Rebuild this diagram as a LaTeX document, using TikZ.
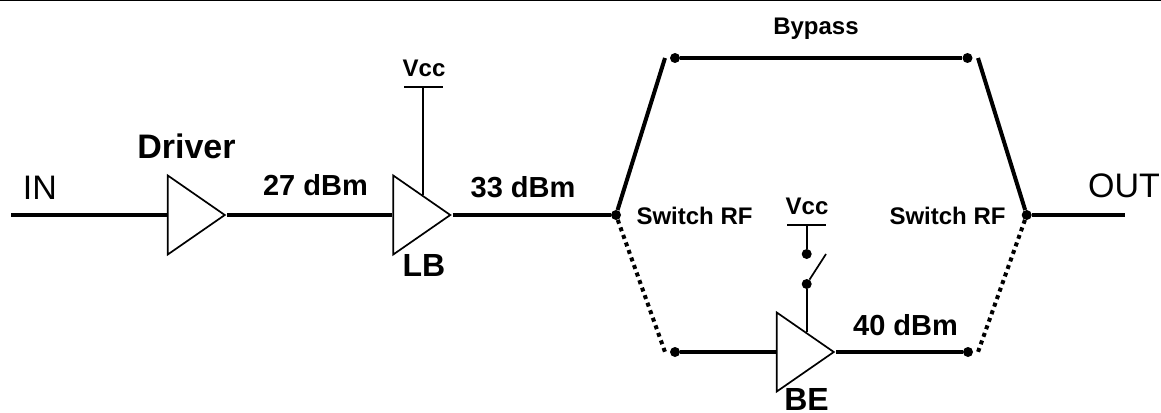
\documentclass[tikz,border=0pt]{standalone}
\usepackage{fontspec}
\setmainfont{Liberation Sans}
\usetikzlibrary{positioning,shapes.geometric}

\begin{document}
\begin{tikzpicture}[
  x=1pt, y=-1pt,
  amp/.style = {draw, line width=1.7pt, fill=white, inner sep=0pt, anchor=apex,
                isosceles triangle, isosceles triangle stretches,
                minimum width=79pt, minimum height=57pt},
  rail/.style = {line width=4pt},
  feed/.style = {line width=1.7pt},
  dotrail/.style = {line width=4pt, dash pattern=on 4pt off 4pt},
  pin/.style = {circle, fill=black, inner sep=0pt, minimum size=10pt},
  big/.style = {font=\fontsize{34}{34}\selectfont\bfseries, inner sep=0pt, anchor=base},
  tag/.style = {font=\fontsize{32}{32}\selectfont\bfseries, inner sep=0pt, anchor=base},
  mid/.style = {font=\fontsize{29}{29}\selectfont\bfseries, inner sep=0pt, anchor=base},
  small/.style = {font=\fontsize{24}{24}\selectfont\bfseries, inner sep=0pt, anchor=base},
  port/.style = {font=\fontsize{34}{34}\selectfont, inner sep=0pt, anchor=base}
]
\useasboundingbox (0,0) rectangle (1161,412);

\draw[line width=2pt] (0,0) -- (1161,0);

% ---------- input chain ------------------------------------------------------
\coordinate (in) at (11,215);
\node[pin] (swl) at (616,215) {};
\node[amp] (drv) at (227,215) {};
\node[amp] (lb) at (452.5,215) {};
\draw[rail] (in) -- (drv.lower side);
\draw[rail] (drv.apex) -- (lb.lower side);
\draw[rail] (lb.apex) -- (swl);

\coordinate (vcca) at (423.3,87.3);
\coordinate (vccal) at (404,87.3);
\coordinate (vccar) at (443.3,87.3);
\coordinate (vccaend) at (423.3,195);
\draw[feed] (vccal) -- (vccar);
\draw[feed] (vcca) -- (vccaend);

\node[port] (inlbl) at (40,199) {IN};
\node[big] (drvlbl) at (186.5,158) {Driver};
\node[mid] (p27) at (315.5,195.7) {27 dBm};
\node[mid] (p33) at (523,197.7) {33 dBm};
\node[small] (vccalbl) at (424,76) {Vcc};
\node[tag] (lblbl) at (424,276) {LB};

% ---------- bypass path ------------------------------------------------------
\node[pin] (bpl) at (675,58) {};
\node[pin] (bpr) at (967.5,58) {};
\node[pin] (swr) at (1026.7,215) {};
\coordinate (armtl) at (665,58);
\coordinate (armtr) at (978,58);
\coordinate (out) at (1125,215);
\draw[rail] (bpl) -- (bpr);
\draw[rail] (swl) -- (armtl);
\draw[rail] (swr) -- (armtr);
\draw[rail] (swr) -- (out);

\node[small] (bypass) at (816,35) {Bypass};
\node[small] (swllbl) at (694.5,224) {Switch RF};
\node[small] (swrlbl) at (947.5,224) {Switch RF};
\node[port] (outlbl) at (1124,197.7) {OUT};

% ---------- amplified path ---------------------------------------------------
\node[pin] (hil) at (675,352) {};
\node[pin] (hir) at (968,352) {};
\node[amp] (be) at (836,352) {};
\coordinate (armbl) at (665,352);
\coordinate (armbr) at (978,352);
\draw[rail] (hil) -- (be.lower side);
\draw[rail] (be.apex) -- (hir);
\draw[dotrail] (swl) -- (armbl);
\draw[dotrail] (swr) -- (armbr);

\node[pin] (sw1) at (806.7,254) {};
\node[pin] (sw2) at (806.7,284) {};
\coordinate (vccb) at (806.7,224.7);
\coordinate (vccbl) at (787,224.7);
\coordinate (vccbr) at (826,224.7);
\coordinate (swarm) at (826,254);
\coordinate (bend) at (806.7,332);
\draw[feed] (vccbl) -- (vccbr);
\draw[feed] (vccb) -- (sw1);
\draw[feed] (sw2) -- (swarm);
\draw[feed] (sw2) -- (bend);

\node[small] (vccblbl) at (807,214) {Vcc};
\node[mid] (p40) at (905.5,335) {40 dBm};
\node[tag] (belbl) at (806.5,410) {BE};
\end{tikzpicture}
\end{document}
